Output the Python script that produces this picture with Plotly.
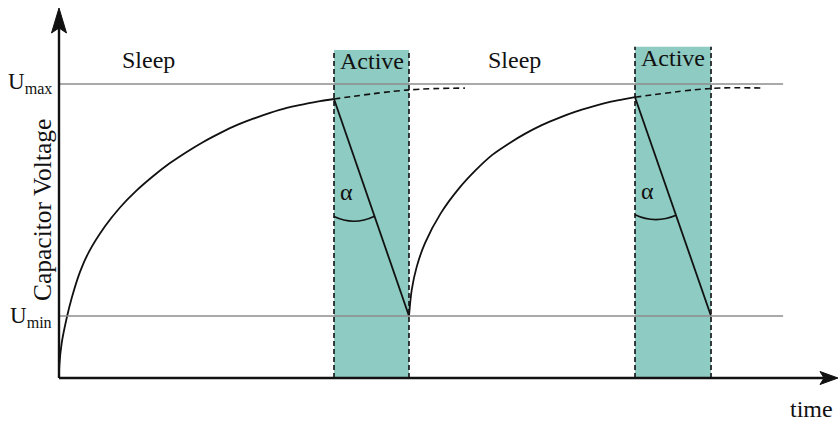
import plotly.graph_objects as go

# canvas geometry: where the axes cross and how many pixels make one unit
W, H = 838, 425
ORIGIN_PX = (59, 378)
PX_PER_T, PX_PER_V = 27.5, 294

U_MIN, U_MAX = 0.211, 1.0
LINE_END_T = 26.33

# first charge after power-up
charge1_t = [0, 0.011, 0.098, 0.280, 0.462, 0.764, 1.065, 1.673, 2.218, 2.825, 3.429,
             4.036, 4.644, 5.247, 5.855, 6.462, 7.065, 7.673, 8.280, 8.884, 9.491, 10.0]
charge1_v = [0, 0.041, 0.119, 0.204, 0.272, 0.361, 0.425, 0.516, 0.580, 0.638, 0.687,
             0.731, 0.769, 0.803, 0.833, 0.860, 0.882, 0.902, 0.919, 0.931, 0.942, 0.949]

# recharge from U_min
charge2_t = [12.727, 12.825, 13.007, 13.309, 13.880, 14.545, 15.153, 15.756, 16.364,
             16.971, 17.575, 18.182, 18.789, 19.393, 20.0, 20.607, 20.945]
charge2_v = [0.211, 0.299, 0.378, 0.459, 0.560, 0.645, 0.707, 0.759, 0.798,
             0.832, 0.861, 0.885, 0.906, 0.923, 0.938, 0.949, 0.955]

# what the voltage would do without the active phase
cont1_t = [10.0, 12.727, 14.76]
cont1_v = [0.949, 0.980, 0.986]
cont2_t = [20.945, 23.71, 25.60]
cont2_v = [0.955, 0.985, 0.986]

active_start = [10.0, 20.945]
active_end = [12.727, 23.71]
active_top = [1.116, 1.127]

sleep_label_t = [3.27, 16.55]
sleep_label_v = [1.082, 1.082]
active_label_v = [1.078, 1.088]

TEAL = "#8ecbc2"
GREY = "#8c8c8c"
INK = "#111111"
FONT = "Liberation Serif"

x_lo = -ORIGIN_PX[0] / PX_PER_T
x_hi = (W - ORIGIN_PX[0]) / PX_PER_T
y_lo = -(H - ORIGIN_PX[1]) / PX_PER_V
y_hi = ORIGIN_PX[1] / PX_PER_V


def arrow_path(tip_t, tip_v, direction, length, half, notch):
    # arrowhead sized in pixels, placed in data units
    dt, dv = 1 / PX_PER_T, 1 / PX_PER_V
    if direction == "up":
        pts = [(tip_t, tip_v),
               (tip_t - half * dt, tip_v - length * dv),
               (tip_t, tip_v - (length - notch) * dv),
               (tip_t + half * dt, tip_v - length * dv)]
    else:
        pts = [(tip_t, tip_v),
               (tip_t - length * dt, tip_v + half * dv),
               (tip_t - (length - notch) * dt, tip_v),
               (tip_t - length * dt, tip_v - half * dv)]
    return "M" + " L".join(f"{a:.4f},{b:.4f}" for a, b in pts) + " Z"


fig = go.Figure()

shapes = []
for x0, x1, top in zip(active_start, active_end, active_top):
    shapes.append(dict(type="rect", x0=x0, x1=x1, y0=0, y1=top, fillcolor=TEAL,
                       line_width=0, layer="below"))
for v in (U_MAX, U_MIN):
    shapes.append(dict(type="line", x0=0, x1=LINE_END_T, y0=v, y1=v,
                       line=dict(color=GREY, width=1.6)))
for x0, x1, top in zip(active_start, active_end, active_top):
    for x in (x0, x1):
        shapes.append(dict(type="line", x0=x, x1=x, y0=0, y1=top,
                           line=dict(color=INK, width=1.6, dash="5px,3px")))

# axes with arrowheads
y_tip = (ORIGIN_PX[1] - 8) / PX_PER_V
x_tip = x_hi
shapes.append(dict(type="line", x0=0, x1=0, y0=0, y1=y_tip - 20 / PX_PER_V,
                   line=dict(color=INK, width=2.4)))
shapes.append(dict(type="line", x0=0, x1=x_tip - 14 / PX_PER_T, y0=0, y1=0,
                   line=dict(color=INK, width=2.4)))
shapes.append(dict(type="path", path=arrow_path(0, y_tip, "up", 25, 7.5, 5),
                   fillcolor=INK, line=dict(color=INK, width=1)))
shapes.append(dict(type="path", path=arrow_path(x_tip, 0, "right", 18, 6.5, 4),
                   fillcolor=INK, line=dict(color=INK, width=1)))

# alpha arcs between the vertical and the discharge line
peaks = [(charge1_t[-1], charge1_v[-1]), (charge2_t[-1], charge2_v[-1])]
for (pt, pv), end in zip(peaks, active_end):
    frac = 0.54
    et = pt + frac * (end - pt)
    ev = pv + frac * (U_MIN - pv)
    shapes.append(dict(type="path",
                       path=f"M{pt},{pv - 0.4} Q{pt + 0.73},{pv - 0.432} {et},{ev}",
                       line=dict(color=INK, width=1.6)))

curve = dict(color=INK, width=1.8)
fig.add_trace(go.Scatter(x=charge1_t, y=charge1_v, mode="lines",
                         line=dict(**curve, shape="spline", smoothing=0.8)))
fig.add_trace(go.Scatter(x=charge2_t, y=charge2_v, mode="lines",
                         line=dict(**curve, shape="spline", smoothing=0.8)))
for (pt, pv), end in zip(peaks, active_end):
    fig.add_trace(go.Scatter(x=[pt, end], y=[pv, U_MIN], mode="lines", line=curve))
for ct, cv in ((cont1_t, cont1_v), (cont2_t, cont2_v)):
    fig.add_trace(go.Scatter(x=ct, y=cv, mode="lines",
                             line=dict(color=INK, width=1.6, dash="6px,4px", shape="spline")))

txt = dict(family=FONT, size=24, color=INK)
ann = []
for t, v in zip(sleep_label_t, sleep_label_v):
    ann.append(dict(x=t, y=v, text="Sleep", showarrow=False, font=txt))
for x0, x1, v in zip(active_start, active_end, active_label_v):
    ann.append(dict(x=(x0 + x1) / 2, y=v, text="Active", showarrow=False, font=txt))
for (pt, pv) in peaks:
    ann.append(dict(x=pt + 0.44, y=pv - 0.318, text="α", showarrow=False, font=txt))
label_font = dict(family=FONT, size=23, color=INK)
ann.append(dict(x=-0.2, y=U_MAX + 0.003, text="U<sub>max</sub>", showarrow=False,
                xanchor="right", font=label_font))
ann.append(dict(x=-0.2, y=U_MIN - 0.004, text="U<sub>min</sub>", showarrow=False,
                xanchor="right", font=label_font))
ann.append(dict(x=-0.62, y=0.571, text="Capacitor Voltage", textangle=-90,
                showarrow=False, font=dict(family=FONT, size=25.5, color=INK)))
ann.append(dict(x=27.38, y=-0.105, text="time", showarrow=False,
                font=dict(family=FONT, size=24, color=INK)))

fig.update_layout(
    width=W, height=H,
    margin=dict(l=0, r=0, t=0, b=0),
    paper_bgcolor="white", plot_bgcolor="white",
    showlegend=False,
    shapes=shapes, annotations=ann,
    xaxis=dict(range=[x_lo, x_hi], visible=False, fixedrange=True),
    yaxis=dict(range=[y_lo, y_hi], visible=False, fixedrange=True),
)
fig.write_html("out.html", config={"displayModeBar": False},
               post_script="document.body.style.margin = '0px';")
